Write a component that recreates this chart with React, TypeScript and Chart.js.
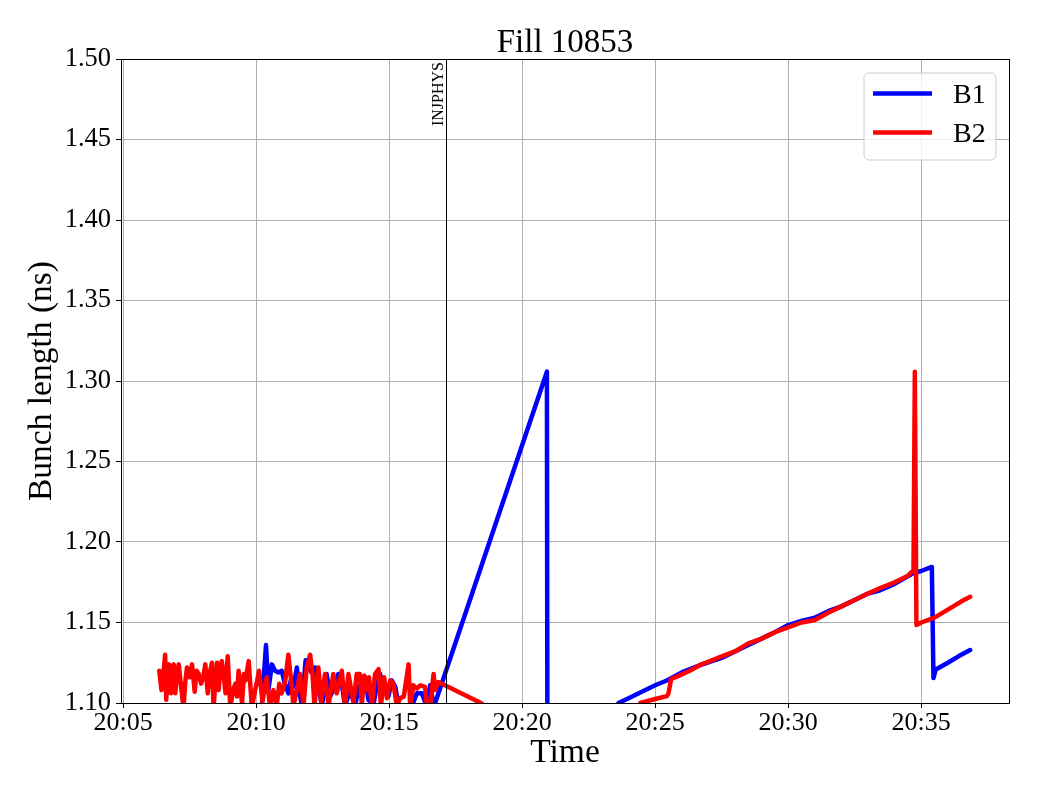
import React, { useEffect, useRef } from "react";
import { Chart, registerables } from "chart.js";

Chart.register(...registerables);

const TITLE = "Fill 10853";
const X_LABEL = "Time";
const Y_LABEL = "Bunch length (ns)";
const SERIES_NAMES = ["B1", "B2"];
const SERIES_COLORS = ["#0000ff", "#ff0000"];
// minutes after 20:00
const X_TICKS = [5, 10, 15, 20, 25, 30, 35];
const X_MIN = 4.92;
const X_MAX = 38.3;
const Y_MIN = 1.1;
const Y_MAX = 1.5;
const Y_STEP = 0.05;
const MARKER_TIME = 17.14;
const MARKER_LABEL = "INJPHYS";

const b1Time = [
  10.2, 10.37, 10.46, 10.59, 10.71, 10.84, 10.96, 11.08, 11.21, 11.3, 11.4, 11.53, 11.62, 11.72,
  11.86, 11.95, 12.08, 12.22, 12.34, 12.47, 12.65, 12.78, 12.9, 13.09, 13.22, 13.34, 13.53, 13.72,
  13.85, 14.0, 14.1, 14.22, 14.41, 14.54, 14.66, 14.79, 14.97, 15.1, 15.23, 15.35, 15.6, 15.85,
  16.04, 16.23, 16.41, 16.54, 16.67, 16.73, 20.93, 20.95, 23.2, 23.62, 24.0, 24.5, 25.0, 25.44,
  26.0, 26.69, 27.5, 28.0, 28.5, 29.0, 29.5, 30.0, 30.5, 31.0, 31.5, 32.0, 32.5, 33.0, 33.46,
  34.0, 34.71, 35.0, 35.4, 35.46, 35.55, 35.65, 36.0, 36.4, 36.84,
];
const b1Value = [
  1.095, 1.136, 1.108, 1.124, 1.12, 1.119, 1.12, 1.112, 1.106, 1.114, 1.11, 1.122, 1.108, 1.098,
  1.1265, 1.124, 1.119, 1.122, 1.112, 1.098, 1.118, 1.104, 1.108, 1.118, 1.112, 1.098, 1.108, 1.098,
  1.11, 1.113, 1.116, 1.102, 1.099, 1.111, 1.118, 1.108, 1.104, 1.114, 1.11, 1.098, 1.098, 1.098,
  1.106, 1.106, 1.098, 1.111, 1.099, 1.1, 1.3058, 1.05, 1.06, 1.1, 1.103, 1.107, 1.111, 1.114,
  1.119, 1.1236, 1.128, 1.132, 1.136, 1.14, 1.144, 1.1484, 1.151, 1.153, 1.157, 1.16, 1.164, 1.168, 1.17,
  1.174, 1.1807, 1.182, 1.1845, 1.1155, 1.121, 1.1217, 1.125, 1.129, 1.1329,
];

const b2Time = [
  6.36, 6.44, 6.5, 6.58, 6.62, 6.68, 6.73, 6.8, 6.85, 6.9, 6.96, 7.02, 7.09, 7.18, 7.27, 7.33, 7.4,
  7.5, 7.59, 7.69, 7.76, 7.84, 7.93, 8.02, 8.09, 8.18, 8.26, 8.34, 8.4, 8.47, 8.53, 8.59, 8.65,
  8.71, 8.78, 8.85, 8.93, 9.03, 9.13, 9.22, 9.28, 9.34, 9.47, 9.54, 9.6, 9.72, 9.84, 9.96, 10.04,
  10.11, 10.24, 10.32, 10.4, 10.52, 10.65, 10.77, 10.87, 10.96, 11.09, 11.21, 11.34, 11.4, 11.53,
  11.65, 11.78, 11.9, 12.03, 12.12, 12.19, 12.34, 12.44, 12.59, 12.72, 12.9, 13.03, 13.22, 13.34,
  13.47, 13.66, 13.78, 13.9, 13.97, 14.07, 14.16, 14.24, 14.35, 14.47, 14.6, 14.69, 14.81, 14.92,
  15.04, 15.16, 15.29, 15.41, 15.55, 15.73, 15.79, 15.91, 16.04, 16.17, 16.35, 16.42, 16.54,
  16.67, 16.73, 16.85, 18.45, 18.6, 24.3, 24.44, 25.0, 25.44, 25.5, 25.6, 25.9, 26.3, 26.69, 27.5,
  28.0, 28.5, 29.0, 29.5, 30.0, 30.5, 31.0, 31.5, 32.0, 32.5, 33.0, 33.46, 34.0, 34.5, 34.71,
  34.76, 34.82, 35.0, 35.5, 36.0, 36.5, 36.84,
];
const b2Value = [
  1.12, 1.108, 1.116, 1.13, 1.102, 1.118, 1.124, 1.106, 1.12, 1.124, 1.106, 1.118, 1.124, 1.11,
  1.097, 1.112, 1.122, 1.116, 1.124, 1.107, 1.12, 1.118, 1.112, 1.117, 1.124, 1.106, 1.119, 1.125,
  1.097, 1.114, 1.125, 1.108, 1.12, 1.126, 1.117, 1.106, 1.129, 1.097, 1.108, 1.112, 1.104, 1.12,
  1.1, 1.118, 1.114, 1.126, 1.097, 1.108, 1.114, 1.12, 1.101, 1.109, 1.116, 1.098, 1.108, 1.098,
  1.112, 1.106, 1.113, 1.13, 1.11, 1.098, 1.108, 1.118, 1.098, 1.122, 1.13, 1.118, 1.098, 1.122,
  1.101, 1.118, 1.098, 1.118, 1.106, 1.12, 1.098, 1.118, 1.1, 1.118, 1.118, 1.099, 1.117, 1.108,
  1.116, 1.098, 1.118, 1.121, 1.098, 1.116, 1.103, 1.114, 1.112, 1.098, 1.103, 1.104, 1.124,
  1.098, 1.111, 1.109, 1.111, 1.11, 1.098, 1.098, 1.118, 1.108, 1.113, 1.1, 1.098, 1.085, 1.1,
  1.1025, 1.1043, 1.106, 1.1149, 1.117, 1.12, 1.1236, 1.129, 1.132, 1.137, 1.14, 1.144, 1.147,
  1.15, 1.1516, 1.156, 1.16, 1.164, 1.168, 1.1714, 1.175, 1.179, 1.1826, 1.3058, 1.1484, 1.15,
  1.153, 1.158, 1.163, 1.166,
];

const SERIF = '"Liberation Serif", "DejaVu Serif", serif';

function fmtTime(v: number): string {
  const m = Math.round(v);
  return "20:" + (m < 10 ? "0" + m : String(m));
}

const decorPlugin = {
  id: "decor",
  afterDatasetsDraw(chart: any) {
    const { ctx, chartArea: a, scales } = chart;
    ctx.save();
    // marker line
    const mx = Math.round(scales.x.getPixelForValue(MARKER_TIME)) + 0.5;
    ctx.strokeStyle = "#000";
    ctx.lineWidth = 1;
    ctx.beginPath();
    ctx.moveTo(mx, a.top);
    ctx.lineTo(mx, a.bottom);
    ctx.stroke();
    ctx.save();
    ctx.translate(mx - 4, a.top + 3);
    ctx.rotate(-Math.PI / 2);
    ctx.font = "16px " + SERIF;
    ctx.fillStyle = "#000";
    ctx.textAlign = "right";
    ctx.textBaseline = "alphabetic";
    ctx.fillText(MARKER_LABEL, 0, 0);
    ctx.restore();
    // frame
    ctx.strokeStyle = "#000";
    ctx.lineWidth = 1;
    ctx.strokeRect(Math.round(a.left) + 0.5, Math.round(a.top) + 0.5, Math.round(a.right - a.left), Math.round(a.bottom - a.top));
    // title
    ctx.fillStyle = "#000";
    ctx.font = "33px " + SERIF;
    ctx.textAlign = "center";
    ctx.textBaseline = "middle";
    ctx.fillText(TITLE, (a.left + a.right) / 2, 43);
    // legend
    const bx = a.right - 145, by = a.top + 14, bw = 132, bh = 87, r = 5;
    ctx.beginPath();
    ctx.moveTo(bx + r, by);
    ctx.lineTo(bx + bw - r, by);
    ctx.arcTo(bx + bw, by, bx + bw, by + r, r);
    ctx.lineTo(bx + bw, by + bh - r);
    ctx.arcTo(bx + bw, by + bh, bx + bw - r, by + bh, r);
    ctx.lineTo(bx + r, by + bh);
    ctx.arcTo(bx, by + bh, bx, by + bh - r, r);
    ctx.lineTo(bx, by + r);
    ctx.arcTo(bx, by, bx + r, by, r);
    ctx.closePath();
    ctx.fillStyle = "rgba(255,255,255,0.8)";
    ctx.fill();
    ctx.strokeStyle = "#cccccc";
    ctx.lineWidth = 1;
    ctx.stroke();
    SERIES_NAMES.forEach((name, i) => {
      const ly = by + 20.5 + i * 39;
      ctx.strokeStyle = SERIES_COLORS[i];
      ctx.lineWidth = 4.5;
      ctx.lineCap = "butt";
      ctx.beginPath();
      ctx.moveTo(bx + 9, ly);
      ctx.lineTo(bx + 68, ly);
      ctx.stroke();
      ctx.fillStyle = "#000";
      ctx.font = "28px " + SERIF;
      ctx.textAlign = "left";
      ctx.textBaseline = "middle";
      ctx.fillText(name, bx + 89, ly + 2);
    });
    ctx.restore();
  },
};

export default function App() {
  const ref = useRef<HTMLCanvasElement | null>(null);
  useEffect(() => {
    if (!ref.current) return;
    const b1 = b1Time.map((t, i) => ({ x: t, y: b1Value[i] }));
    const b2 = b2Time.map((t, i) => ({ x: t, y: b2Value[i] }));
    const common = {
      borderWidth: 4.5,
      pointRadius: 0,
      tension: 0,
      borderJoinStyle: "round",
      borderCapStyle: "round",
      clip: 0,
    };
    const chart = new Chart(ref.current, {
      type: "line",
      data: {
        datasets: [
          {
            ...common,
            label: SERIES_NAMES[0],
            data: b1,
            borderColor: SERIES_COLORS[0],
            backgroundColor: SERIES_COLORS[0],
            order: 1,
          },
          {
            ...common,
            label: SERIES_NAMES[1],
            data: b2,
            borderColor: SERIES_COLORS[1],
            backgroundColor: SERIES_COLORS[1],
            order: 0,
          },
        ],
      },
      options: {
        responsive: false,
        animation: false,
        devicePixelRatio: 1,
        layout: { padding: { top: 59, right: 31, bottom: 0, left: 0 } },
        plugins: {
          legend: { display: false },
          title: { display: false },
          tooltip: { enabled: false },
        },
        scales: {
          x: {
            type: "linear",
            min: X_MIN,
            max: X_MAX,
            afterBuildTicks: (s: any) => {
              s.ticks = X_TICKS.map((v) => ({ value: v }));
            },
            afterFit: (s: any) => {
              s.height = 97;
            },
            ticks: {
              callback: (v: any) => fmtTime(Number(v)),
              font: { family: SERIF, size: 26 },
              color: "#000",
              padding: 0,
              maxRotation: 0,
              autoSkip: false,
            },
            grid: { color: "#b0b0b0", lineWidth: 1, tickColor: "#000", tickLength: 5 },
            border: { display: true, color: "#000", width: 1 },
            title: {
              display: true,
              text: X_LABEL,
              font: { family: SERIF, size: 33.5 },
              color: "#000",
              padding: { top: 0, bottom: 27 },
            },
          },
          y: {
            type: "linear",
            min: Y_MIN,
            max: Y_MAX,
            afterFit: (s: any) => {
              s.width = 121;
            },
            ticks: {
              stepSize: Y_STEP,
              callback: (v: any) => Number(v).toFixed(2),
              font: { family: SERIF, size: 26.5 },
              color: "#000",
              padding: 5,
            },
            grid: { color: "#b0b0b0", lineWidth: 1, tickColor: "#000", tickLength: 5 },
            border: { display: true, color: "#000", width: 1 },
            title: {
              display: true,
              text: Y_LABEL,
              font: { family: SERIF, size: 33.5 },
              color: "#000",
              padding: { top: 22, bottom: 0 },
            },
          },
        },
      },
      plugins: [decorPlugin],
    } as any);
    return () => chart.destroy();
  }, []);
  return (
    <canvas
      ref={ref}
      width={1040}
      height={800}
      style={{ position: "absolute", left: 0, top: 0, width: 1040, height: 800 }}
    />
  );
}
